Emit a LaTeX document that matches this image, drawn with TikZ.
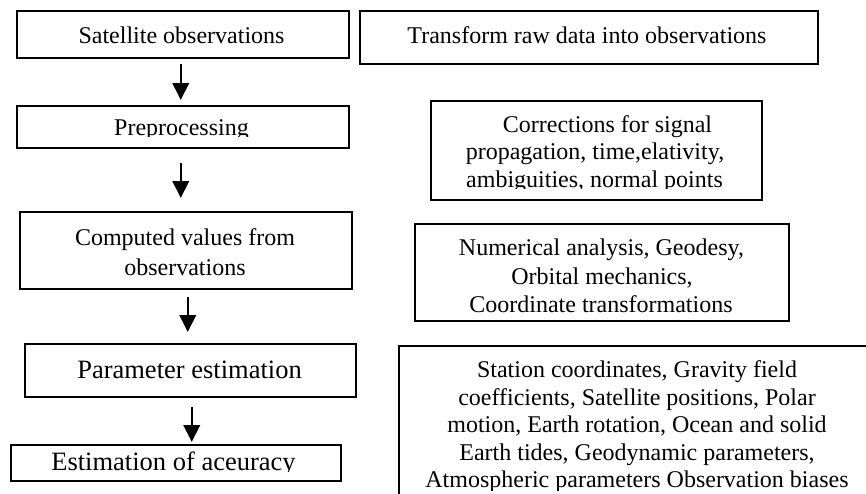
\documentclass[tikz,border=0pt]{standalone}
\usepackage{fontspec}
\setmainfont{Liberation Serif}
\usetikzlibrary{arrows.meta}
\begin{document}
\begin{tikzpicture}[x=1pt,y=-1pt,
  box/.style={draw, line width=1.5pt, inner sep=0pt, anchor=north west},
  txt/.style={inner sep=0pt, anchor=base, font=\fontsize{24}{28}\selectfont},
  bigtxt/.style={inner sep=0pt, anchor=base, font=\fontsize{26.5}{30}\selectfont},
  arr/.style={-{Triangle[width=16.5pt,length=17pt]}, line width=2pt}
]
\useasboundingbox (0,0) rectangle (866,493);
% left column boxes
\node[box, minimum width=332pt, minimum height=47pt] (b1) at (16,10) {};
\node[box, minimum width=332pt, minimum height=42pt] (b2) at (16,105) {};
\node[box, minimum width=332pt, minimum height=77pt] (b3) at (19,211) {};
\node[box, minimum width=331pt, minimum height=53pt] (b4) at (24,343) {};
\node[box, minimum width=330pt, minimum height=36pt] (b5) at (10,444) {};
% right column boxes
\node[box, minimum width=458pt, minimum height=53pt] (t1) at (359,10) {};
\node[box, minimum width=331pt, minimum height=99pt] (t2) at (430,100) {};
\node[box, minimum width=374pt, minimum height=97pt] (t3) at (414,223) {};
\begin{scope}
  \clip (0,0) rectangle (866,493);
  \node[box, minimum width=500pt, minimum height=200pt] (t5) at (398,345) {};
\end{scope}
% texts
\node[txt] (l1) at (181.5,43) {Satellite observations};
\node[txt] (r1) at (587,43) {Transform raw data into observations};
\begin{scope}
  \clip (20,100) rectangle (340,136.5);
  \node[txt] (l2) at (181.5,135) {Preprocessing};
\end{scope}
\node[txt] (r2a) at (607.5,132) {Corrections for signal};
\node[txt] (r2b) at (595,159) {propagation, time,elativity,};
\begin{scope}
  \clip (432,100) rectangle (758,188.5);
  \node[txt] (r2c) at (594.5,187) {ambiguities, normal points};
\end{scope}
\node[txt] (l3a) at (185,245) {Computed values from};
\node[txt] (l3b) at (185,275) {observations};
\node[txt] (r3a) at (601.5,255) {Numerical analysis, Geodesy,};
\node[txt] (r3b) at (602,284) {Orbital mechanics,};
\begin{scope}
  \clip (416,223) rectangle (786,312.5);
  \node[txt] (r3c) at (601,312) {Coordinate transformations};
\end{scope}
\node[bigtxt] (l4) at (189.5,378) {Parameter estimation};
\begin{scope}
  \clip (12,444) rectangle (338,471);
  \node[bigtxt] (l5) at (173.5,470) {Estimation of aceuracy};
\end{scope}
\begin{scope}
  \clip (400,345) rectangle (866,490);
  \node[txt] (r5a) at (637,377) {Station coordinates, Gravity field};
  \node[txt] (r5b) at (637,405) {coefficients, Satellite positions, Polar};
  \node[txt] (r5c) at (637,432) {motion, Earth rotation, Ocean and solid};
  \node[txt] (r5d) at (637,460) {Earth tides, Geodynamic parameters,};
  \node[txt] (r5e) at (637,487) {Atmospheric parameters Observation biases};
\end{scope}
% arrows
\draw[arr, shorten <=5pt, shorten >=5pt] ([xshift=-2pt]b1.south) -- ([xshift=-2pt]b1.south |- b2.north);
\draw[arr, shorten <=14pt, shorten >=13pt] ([xshift=-2pt]b2.south) -- ([xshift=-2pt]b2.south |- b3.north);
\draw[arr, shorten <=7pt, shorten >=11pt] ([xshift=2pt]b3.south) -- ([xshift=2pt]b3.south |- b4.north);
\draw[arr, shorten <=9pt, shorten >=2pt] ([xshift=1.5pt]b4.south) -- ([xshift=1.5pt]b4.south |- b5.north);
\end{tikzpicture}
\end{document}
